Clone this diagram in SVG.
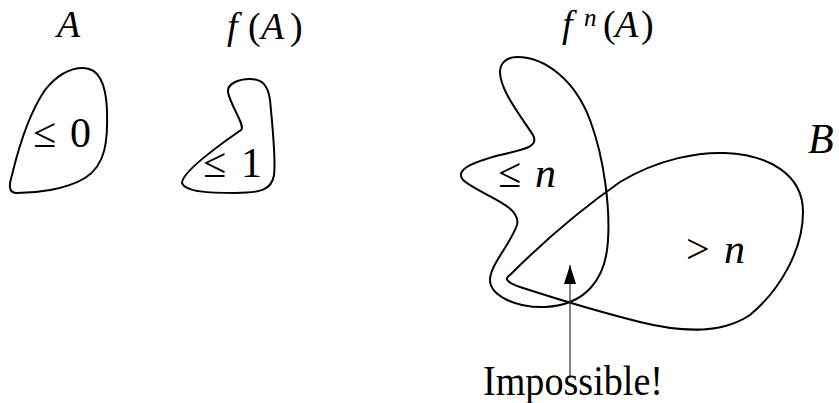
<svg xmlns="http://www.w3.org/2000/svg" width="839" height="403" viewBox="0 0 839 403">
<style>
.blob{fill:none;stroke:#000;stroke-width:2;stroke-linejoin:round}
.conn{stroke:#333;stroke-width:1.2;fill:none}
.m{font-style:italic}
</style>
<defs>
<marker id="ah" viewBox="0 0 19 12" refX="19" refY="6" markerWidth="19" markerHeight="12" markerUnits="userSpaceOnUse" orient="auto">
<path d="M0,0 L19,6 L0,12 Z" fill="#000"/>
</marker>
</defs>
<g font-family="'Liberation Serif', 'DejaVu Serif', serif" font-size="42" fill="#000">
<g id="setA">
<path class="blob" d="M 83,68 C 100,68 106,85 107,110 C 108,140 106,165 85,178 C 65,190 35,193 17,193 C 8,193 9,185 12,175 C 18,150 28,115 45,90 C 57,75 70,68 83,68 Z"/>
<text class="m" x="57" y="37" font-size="38">A</text>
<text y="147"><tspan x="33">≤</tspan><tspan x="70">0</tspan></text>
</g>
<g id="setfA">
<path class="blob" d="M 250,79 C 262,79 268,85 270,100 C 273,130 276,160 274,175 C 272,190 260,193 235,193 C 210,193 185,192 182,183 C 182,172 215,148 241,130 C 246,126 230,105 228,92 C 227,84 238,79 250,79 Z"/>
<text y="39" font-size="38"><tspan class="m" x="227">f</tspan><tspan x="248">(</tspan><tspan class="m" x="261">A</tspan><tspan x="290">)</tspan></text>
<text y="177"><tspan x="203">≤</tspan><tspan x="241">1</tspan></text>
</g>
<g id="setfnA">
<path class="blob" d="M 517,57 C 545,57 575,80 590,120 C 605,160 610,210 608,240 C 606,280 585,305 545,307 C 515,308 490,295 490,280 C 490,265 510,245 517,225 C 522,205 480,195 463,180 C 455,170 470,163 500,155 C 520,150 540,148 533,135 C 520,115 500,90 500,72 C 500,62 508,57 517,57 Z"/>
<text y="37" font-size="38"><tspan class="m" x="562">f</tspan><tspan class="m" x="584" y="26" font-size="25">n</tspan><tspan x="603" y="37">(</tspan><tspan class="m" x="615">A</tspan><tspan x="641">)</tspan></text>
<text y="187"><tspan x="498">≤</tspan><tspan class="m" x="535">n</tspan></text>
</g>
<g id="setB">
<path class="blob" d="M 510,275 C 540,245 580,210 620,182 C 660,158 700,152 725,153 C 770,155 803,175 803,212 C 803,250 780,290 750,315 C 720,335 680,332 640,322 C 600,312 560,300 520,287 C 505,282 505,278 510,275 Z"/>
<text class="m" x="808" y="153">B</text>
<text y="263"><tspan x="686">&gt;</tspan><tspan class="m" x="724">n</tspan></text>
</g>
<g id="connectors">
<line class="conn" x1="570" y1="378" x2="570" y2="265" marker-end="url(#ah)"/>
</g>
<g id="label">
<text x="483" y="395" textLength="180" lengthAdjust="spacingAndGlyphs">Impossible!</text>
</g>
</g>
</svg>
